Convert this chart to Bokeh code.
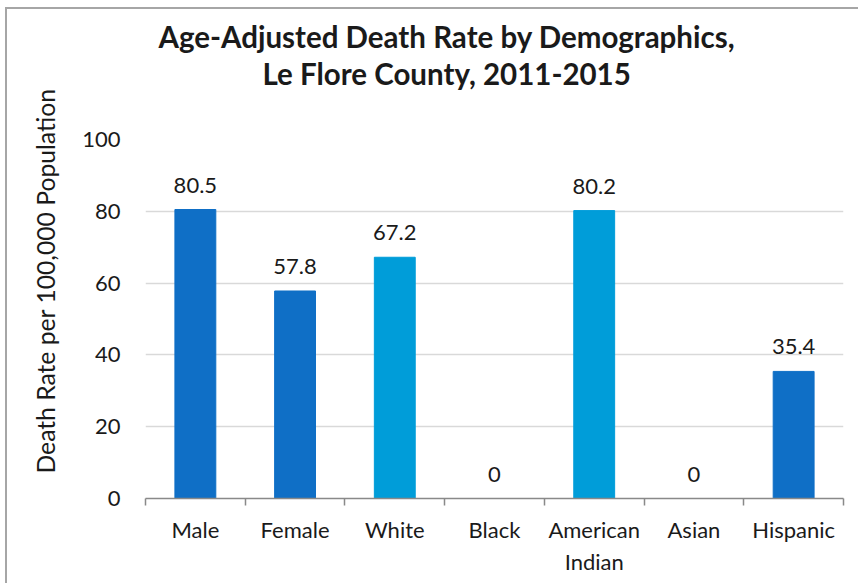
from bokeh.plotting import figure
from bokeh.models import Range1d, FixedTicker, Title, ColumnDataSource
from bokeh.embed import file_html
from bokeh.resources import INLINE
from bokeh.core.properties import value

categories = ["Male", "Female", "White", "Black", "American\nIndian", "Asian", "Hispanic"]
rates = [80.5, 57.8, 67.2, 0, 80.2, 0, 35.4]
bar_colors = ["#0F6FC6", "#0F6FC6", "#009DD9", "#009DD9", "#009DD9", "#009DD9", "#0F6FC6"]
y_ticks = [0, 20, 40, 60, 80, 100]
title_lines = ["Age-Adjusted Death Rate by Demographics,", "Le Flore County, 2011-2015"]
y_title = "Death Rate per 100,000 Population"

FONT = "Lato"
TXT = "#1a1a1a"

xs = [i + 0.5 for i in range(len(categories))]
src = ColumnDataSource(dict(x=xs, y=rates, c=bar_colors,
                            lab=[f"{v:g}" for v in rates]))

p = figure(width=853, height=576, output_backend="svg", toolbar_location=None,
           x_range=Range1d(0, len(categories)), y_range=Range1d(0, 100),
           min_border_left=138, min_border_right=17, min_border_top=130,
           min_border_bottom=87)
p.margin = (7, 0, 0, 5)
p.styles = {"border-top": "2px solid #a6a6a6", "border-left": "2px solid #a6a6a6",
            "box-sizing": "border-box"}
p.outline_line_color = None

p.vbar(x="x", top="y", width=0.41, color="c", source=src)
p.text(x="x", y="y", text="lab", source=src, y_offset=-17,
       text_align="center", text_baseline="bottom",
       text_font=value(FONT), text_font_size="22px", text_color=TXT)

# title: spacer then two lines (nearest the frame first), centred on the chart box
spacer = Title(text=" ", text_font_size="1px", standoff=46)
t2 = Title(text=title_lines[1], align="left", offset=117, text_font=FONT,
           text_font_size="29.5px", text_font_style="bold", text_color=TXT,
           standoff=0)
t1 = Title(text=title_lines[0], align="left", offset=13, text_font=FONT,
           text_font_size="29.5px", text_font_style="bold", text_color=TXT,
           standoff=0)
p.add_layout(spacer, "above")
p.add_layout(t2, "above")
p.add_layout(t1, "above")

# y axis title
yt = Title(text=y_title, align="left", offset=25, standoff=40,
           text_font=FONT, text_font_size="24.7px", text_font_style="normal",
           text_color=TXT)
p.add_layout(yt, "left")

# x axis
xa = p.xaxis[0]
xa.ticker = FixedTicker(ticks=xs, minor_ticks=list(range(len(categories) + 1)))
xa.major_label_overrides = {x: c for x, c in zip(xs, categories)}
xa.major_tick_line_color = None
xa.major_tick_out = 0
xa.minor_tick_in = 0
xa.minor_tick_out = 7
xa.minor_tick_line_color = "#898989"
xa.minor_tick_line_width = 1.5
xa.axis_line_color = "#898989"
xa.axis_line_width = 1.5
xa.major_label_text_font = FONT
xa.major_label_text_font_size = "22px"
xa.major_label_text_color = TXT
xa.major_label_standoff = 10

# y axis
ya = p.yaxis[0]
ya.ticker = FixedTicker(ticks=y_ticks)
ya.axis_line_color = None
ya.major_tick_line_color = None
ya.major_tick_out = 0
ya.minor_tick_line_color = None
ya.major_label_text_font = FONT
ya.major_label_text_font_size = "22px"
ya.major_label_text_color = TXT
ya.major_label_standoff = 25

p.xgrid.grid_line_color = None
p.ygrid.ticker = FixedTicker(ticks=y_ticks)
p.ygrid.grid_line_color = "#d9d9d9"
p.ygrid.grid_line_width = 1.5

open("out.html", "w").write(file_html(p, INLINE))
